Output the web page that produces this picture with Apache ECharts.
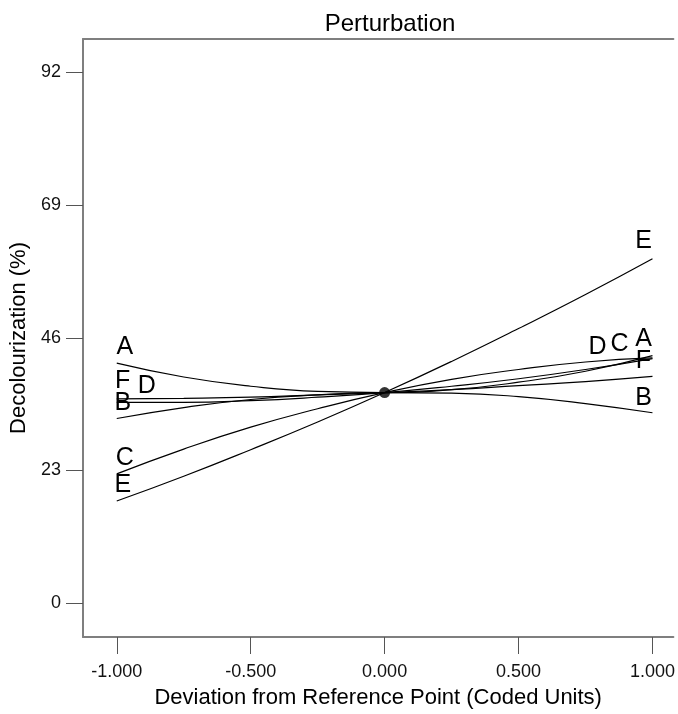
<!DOCTYPE html>
<html>
<head>
<meta charset="utf-8">
<script src="https://cdn.jsdelivr.net/npm/echarts@6/dist/echarts.min.js"></script>
<style>
  html, body { margin: 0; padding: 0; background: #fff; }
  #chart { width: 678px; height: 714px; }
</style>
</head>
<body>
<div id="chart"></div>
<script>
// perturbation plot — one trace per factor

const xs = [-1, -0.75, -0.5, -0.25, 0, 0.25, 0.5, 0.75, 1];

const factorA = [41.6, 39.2, 37.6, 36.7, 36.5, 37.0, 38.3, 40.2, 42.9];
const factorB = [32.0, 33.9, 35.3, 36.1, 36.5, 36.4, 35.8, 34.6, 33.0];
const factorC = [22.4, 26.7, 30.5, 33.7, 36.5, 38.8, 40.5, 41.8, 42.5];
const factorD = [34.8, 34.8, 35.1, 35.7, 36.5, 37.6, 38.9, 40.5, 42.4];
const factorE = [17.7, 22.0, 26.6, 31.4, 36.5, 41.9, 47.6, 53.5, 59.7];
const factorF = [35.4, 35.5, 35.7, 36.1, 36.5, 37.0, 37.7, 38.4, 39.3];

const refPoint = [0, 36.5];

const yTicks = [0, 23, 46, 69, 92];
const xTicks = [-1, -0.5, 0, 0.5, 1];

// letter offsets (px) at the left / right ends, nudged like the original
const LABEL_OFFSETS = {
  A: { left: [8, -16], right: [-9, -17] },
  B: { left: [6, -15], right: [-9, -15] },
  C: { left: [8, -16], right: [-33, -14] },
  D: { left: [30, -16], right: [-55, -11] },
  E: { left: [6, -16], right: [-9, -18] },
  F: { left: [6, -18], right: [-9, -15] },
};

const FACTORS = [
  ['A', factorA], ['B', factorB], ['C', factorC],
  ['D', factorD], ['E', factorE], ['F', factorF],
];

const FONT = 'Liberation Sans, Arial, sans-serif';
const AXIS_GRAY = '#7f7f7f';
const X_MIN = -1.126, X_MAX = 1.078;

function endLabel(name, offset) {
  return {
    show: true, position: 'inside', offset,
    formatter: name, color: '#000', fontFamily: FONT, fontSize: 25,
  };
}

function buildSeries(name, vals) {
  const off = LABEL_OFFSETS[name];
  const last = vals.length - 1;
  return {
    name, type: 'line', smooth: true,
    showSymbol: true, symbolSize: 0,
    lineStyle: { color: '#000', width: 1.2 },
    itemStyle: { color: '#000' },
    data: vals.map((v, i) => {
      const item = { value: [xs[i], v] };
      if (i === 0) item.label = endLabel(name, off.left);
      else if (i === last) item.label = endLabel(name, off.right);
      return item;
    }),
    z: 3,
  };
}

const chart = echarts.init(document.getElementById('chart'), null, { renderer: 'canvas' });

chart.setOption({
  animation: false,
  backgroundColor: '#fff',
  title: {
    text: 'Perturbation', left: 385, textAlign: 'center', top: 7,
    textStyle: { fontFamily: FONT, fontSize: 24, fontWeight: 'normal', color: '#000' },
  },
  // frame is open on the right: the plot runs off the edge of the picture
  grid: { left: 83, right: 0, top: 39, bottom: 71 },
  xAxis: [{
    type: 'value', min: X_MIN, max: X_MAX,
    name: 'Deviation from Reference Point (Coded Units)',
    nameLocation: 'middle', nameGap: 50,
    nameTextStyle: { fontFamily: FONT, fontSize: 22, color: '#000' },
    axisLine: { show: true, onZero: false, lineStyle: { color: AXIS_GRAY, width: 2 } },
    axisTick: { show: true, length: 17, customValues: xTicks, lineStyle: { color: '#555', width: 1 } },
    axisLabel: {
      customValues: xTicks, margin: 26, color: '#111', fontFamily: FONT, fontSize: 18,
      formatter: v => v.toFixed(3),
    },
    splitLine: { show: false },
  }, {
    type: 'value', position: 'top', min: X_MIN, max: X_MAX,
    axisLine: { show: true, onZero: false, lineStyle: { color: AXIS_GRAY, width: 2 } },
    axisTick: { show: false }, axisLabel: { show: false }, splitLine: { show: false },
  }],
  yAxis: {
    type: 'value', min: -5.87, max: 97.79,
    name: 'Decolourization (%)',
    nameLocation: 'middle', nameGap: 51,
    nameTextStyle: { fontFamily: FONT, fontSize: 22, color: '#000' },
    axisLine: { show: true, onZero: false, lineStyle: { color: AXIS_GRAY, width: 2 } },
    axisTick: { show: true, length: 17, customValues: yTicks, lineStyle: { color: '#555', width: 1 } },
    axisLabel: {
      customValues: yTicks, margin: 22, color: '#111', fontFamily: FONT, fontSize: 18,
    },
    splitLine: { show: false },
  },
  series: [
    ...FACTORS.map(([n, v]) => buildSeries(n, v)),
    {
      type: 'scatter', data: [refPoint], symbolSize: 11,
      itemStyle: { color: '#000' }, z: 5,
    },
  ],
});
</script>
</body>
</html>
